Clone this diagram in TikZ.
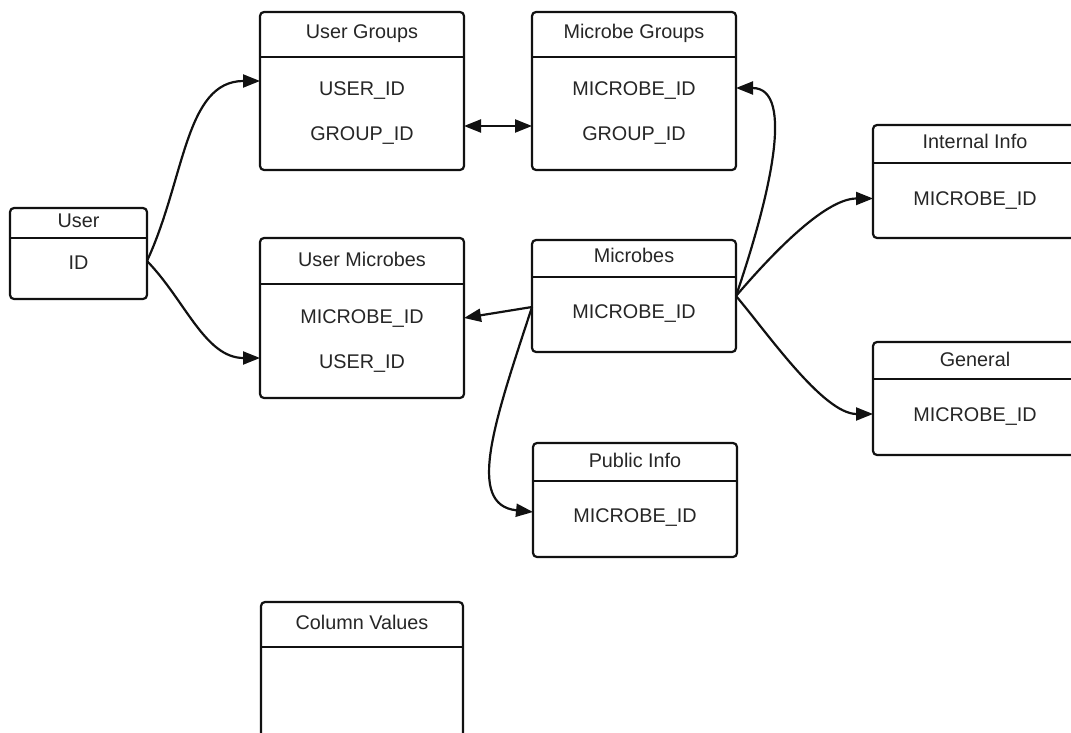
\documentclass[tikz,border=0pt]{standalone}
\usepackage{fontspec}
\setmainfont{Liberation Sans}
\usetikzlibrary{arrows.meta}
\definecolor{txt}{HTML}{262626}
\definecolor{ln}{HTML}{111111}
\begin{document}
\begin{tikzpicture}[x=1pt,y=-1pt,
  tbl/.style={draw=ln, line width=2.2pt, rounded corners=4pt, inner sep=0pt, outer sep=0pt, fill=white},
  divl/.style={draw=ln, line width=2pt},
  lbl/.style={font=\fontsize{19.8}{23}\selectfont, text=txt, inner sep=0pt, anchor=base},
  conn/.style={draw=ln, line width=2.2pt, -{Triangle[length=17pt,width=13pt]}},
  conn2/.style={draw=ln, line width=2.2pt, {Triangle[length=17pt,width=13pt]}-{Triangle[length=17pt,width=13pt]}}]
\useasboundingbox (0,0) rectangle (1071,733);
\clip (0,0) rectangle (1071,733);

% ---------- tables ----------
% User
\node[tbl, minimum width=137pt, minimum height=91pt] (user) at (78.5,253.5) {};
\draw[divl] (user.west |- 0,238) -- (user.east |- 0,238);
\node[lbl] (userT) at (78.5,227) {User};
\node[lbl] (userF1) at (78.5,269) {ID};

% User Groups
\node[tbl, minimum width=204pt, minimum height=158pt] (ug) at (362,91) {};
\draw[divl] (ug.west |- 0,57) -- (ug.east |- 0,57);
\node[lbl] (ugT) at (362,39) {User Groups};
\node[lbl] (ugF1) at (362,96) {USER\_ID};
\node[lbl] (ugF2) at (362,141) {GROUP\_ID};

% Microbe Groups
\node[tbl, minimum width=204pt, minimum height=158pt] (mg) at (634,91) {};
\draw[divl] (mg.west |- 0,57) -- (mg.east |- 0,57);
\node[lbl] (mgT) at (634,39) {Microbe Groups};
\node[lbl] (mgF1) at (634,96) {MICROBE\_ID};
\node[lbl] (mgF2) at (634,141) {GROUP\_ID};

% User Microbes
\node[tbl, minimum width=204pt, minimum height=160pt] (um) at (362,318) {};
\draw[divl] (um.west |- 0,284) -- (um.east |- 0,284);
\node[lbl] (umT) at (362,266) {User Microbes};
\node[lbl] (umF1) at (362,323) {MICROBE\_ID};
\node[lbl] (umF2) at (362,368) {USER\_ID};

% Microbes
\node[tbl, minimum width=204pt, minimum height=112pt] (mic) at (634,296) {};
\draw[divl] (mic.west |- 0,277) -- (mic.east |- 0,277);
\node[lbl] (micT) at (634,262) {Microbes};
\node[lbl] (micF1) at (634,318) {MICROBE\_ID};

% Internal Info
\node[tbl, minimum width=204pt, minimum height=113pt] (ii) at (975,181.5) {};
\draw[divl] (ii.west |- 0,163) -- (ii.east |- 0,163);
\node[lbl] (iiT) at (975,149) {Internal Info};
\node[lbl] (iiF1) at (975,205) {MICROBE\_ID};

% General
\node[tbl, minimum width=204pt, minimum height=113pt] (gen) at (975,398.5) {};
\draw[divl] (gen.west |- 0,379) -- (gen.east |- 0,379);
\node[lbl] (genT) at (975,366) {General};
\node[lbl] (genF1) at (975,421) {MICROBE\_ID};

% Public Info
\node[tbl, minimum width=204pt, minimum height=114pt] (pi) at (635,500) {};
\draw[divl] (pi.west |- 0,481) -- (pi.east |- 0,481);
\node[lbl] (piT) at (635,467) {Public Info};
\node[lbl] (piF1) at (635,522) {MICROBE\_ID};

% Column Values
\node[tbl, minimum width=202pt, minimum height=180pt] (cv) at (362,692) {};
\draw[divl] (cv.west |- 0,647) -- (cv.east |- 0,647);
\node[lbl] (cvT) at (362,629) {Column Values};

% ---------- connectors ----------
\draw[conn] ([yshift=-7.5pt]user.east) .. controls +(38,-82) and +(-75,0) .. ([yshift=10pt]ug.west);
\draw[conn] ([yshift=-7.5pt]user.east) .. controls +(38,39) and +(-55,0) .. ([yshift=-40pt]um.west);
\draw[conn2] ([yshift=-35pt]ug.east) -- ([yshift=-35pt]mg.west);
\draw[conn] (mic.east) .. controls +(33,-97) and +(60,0) .. (mg.east |- 0,88);
\draw[conn] (mic.east) .. controls +(30,-35) and +(-50,0) .. ([yshift=-17pt]ii.west);
\draw[conn] (mic.east) .. controls +(30,35) and +(-50,0) .. ([yshift=-15.5pt]gen.west);
\draw[conn] ([yshift=-11pt]mic.west) -- (um.east);
\draw[conn] ([yshift=-11pt]mic.west) .. controls +(-37,113) and +(-68,-7) .. ([yshift=-12pt]pi.west);
\end{tikzpicture}
\end{document}
